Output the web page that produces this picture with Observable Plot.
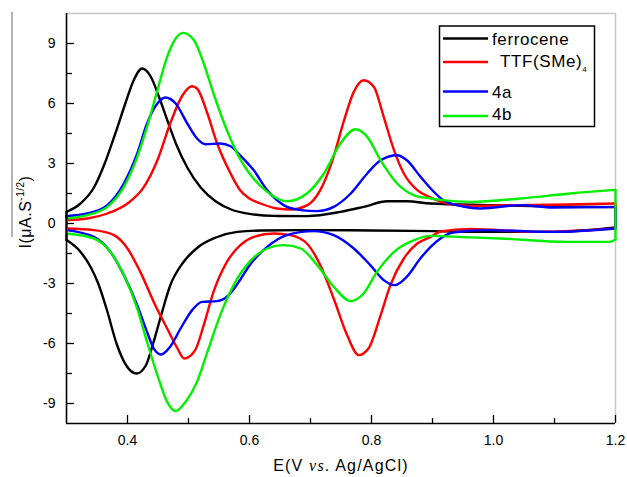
<!DOCTYPE html>
<html><head><meta charset="utf-8">
<script src="https://cdn.jsdelivr.net/npm/d3@7"></script>
<script src="https://cdn.jsdelivr.net/npm/@observablehq/plot@0.6"></script>
<style>
body{margin:0;background:#fff;}
#chart{width:627px;height:477px;position:relative;}
#chart g[aria-label^="x-axis"] text, #chart g[aria-label^="y-axis"] text { font-size: 14px; }
</style>
</head><body><div id="chart"></div>
<script>
const seriesNames = ["ferrocene", "TTF(SMe)4", "4a", "4b"];
const seriesColors = ["#000000", "#ff0000", "#0000ff", "#00f000"];
const xTicksMajor = [0.4, 0.6, 0.8, 1.0, 1.2];
const xTicksMinor = [0.5, 0.7, 0.9, 1.1];
const yTicksMajor = [-9, -6, -3, 0, 3, 6, 9];
const yTicksMinor = [-7.5, -4.5, -1.5, 1.5, 4.5, 7.5];
const xDomain = [0.3, 1.2];
const yDomain = [-10, 10.5];

// ferrocene
const ferroceneOx = [[0.30,0.58],[0.323,1.0],[0.345,1.8],[0.362,2.95],[0.38,4.5],[0.397,6.05],[0.41,7.15],[0.424,7.75],[0.438,7.35],[0.452,6.3],[0.466,5.1],[0.48,3.95],[0.498,2.8],[0.52,1.8],[0.545,1.1],[0.57,0.7],[0.60,0.48],[0.64,0.38],[0.695,0.37],[0.749,0.58],[0.787,0.83],[0.826,1.11],[0.858,1.11],[0.897,1.0],[0.99,0.92],[1.10,0.85],[1.20,0.82]];
const ferroceneRed = [[0.30,-0.83],[0.323,-1.42],[0.34,-2.2],[0.352,-3.0],[0.366,-4.3],[0.382,-6.0],[0.398,-7.1],[0.415,-7.5],[0.43,-7.1],[0.442,-6.0],[0.456,-4.5],[0.47,-3.1],[0.49,-2.0],[0.515,-1.2],[0.545,-0.7],[0.58,-0.42],[0.62,-0.35],[0.70,-0.33],[0.80,-0.35],[0.90,-0.38],[1.00,-0.42],[1.10,-0.42],[1.20,-0.2]];
// TTF(SMe)4
const ttfOx = [[0.30,0.17],[0.334,0.25],[0.367,0.5],[0.40,1.0],[0.427,1.83],[0.449,3.16],[0.47,5.0],[0.49,6.4],[0.506,6.86],[0.514,6.75],[0.531,5.5],[0.547,4.0],[0.569,2.5],[0.585,1.65],[0.60,1.25],[0.618,1.0],[0.645,0.75],[0.667,0.7],[0.695,0.92],[0.716,1.67],[0.736,3.16],[0.755,5.16],[0.771,6.58],[0.787,7.16],[0.804,6.83],[0.82,5.33],[0.837,3.66],[0.853,2.5],[0.875,1.67],[0.897,1.3],[0.913,1.1],[0.962,0.88],[1.044,0.92],[1.12,0.95],[1.20,1.0]];
const ttfRed = [[0.30,-0.25],[0.345,-0.33],[0.378,-0.58],[0.40,-1.25],[0.421,-2.42],[0.443,-3.92],[0.465,-5.25],[0.482,-6.25],[0.493,-6.75],[0.511,-6.33],[0.525,-5.08],[0.541,-3.42],[0.563,-1.92],[0.585,-1.08],[0.607,-0.67],[0.64,-0.5],[0.667,-0.58],[0.694,-1.0],[0.716,-2.08],[0.738,-3.75],[0.760,-5.58],[0.779,-6.58],[0.795,-6.25],[0.815,-4.58],[0.831,-3.08],[0.853,-1.75],[0.875,-1.0],[0.897,-0.67],[0.913,-0.4],[0.962,-0.27],[1.071,-0.42],[1.20,-0.25]];
// 4a
const a4Ox = [[0.30,0.37],[0.334,0.5],[0.367,0.92],[0.394,2.0],[0.416,3.5],[0.432,5.0],[0.449,6.0],[0.462,6.3],[0.479,6.0],[0.498,5.0],[0.514,4.25],[0.528,3.96],[0.552,4.0],[0.569,3.86],[0.585,3.4],[0.607,2.66],[0.629,1.67],[0.656,0.92],[0.684,0.67],[0.711,0.62],[0.738,0.83],[0.766,1.5],[0.793,2.5],[0.815,3.16],[0.842,3.41],[0.858,3.16],[0.880,2.35],[0.897,1.75],[0.918,1.16],[0.95,0.85],[0.979,0.75],[1.044,0.92],[1.098,0.8],[1.20,0.83]];
const a4Red = [[0.30,-0.33],[0.345,-0.67],[0.372,-1.42],[0.394,-2.58],[0.416,-4.08],[0.432,-5.42],[0.443,-6.25],[0.455,-6.55],[0.47,-6.16],[0.487,-5.25],[0.506,-4.33],[0.522,-3.92],[0.547,-3.88],[0.566,-3.58],[0.585,-2.8],[0.60,-2.1],[0.629,-1.17],[0.661,-0.58],[0.705,-0.38],[0.738,-0.58],[0.771,-1.25],[0.798,-2.08],[0.82,-2.83],[0.838,-3.08],[0.858,-2.66],[0.880,-1.75],[0.897,-1.17],[0.913,-0.75],[0.934,-0.45],[0.99,-0.33],[1.098,-0.42],[1.20,-0.25]];
// 4b
const b4Ox = [[0.30,0.25],[0.334,0.42],[0.367,0.83],[0.394,1.83],[0.416,3.33],[0.432,4.83],[0.449,6.66],[0.465,8.33],[0.479,9.25],[0.491,9.53],[0.509,9.16],[0.525,8.0],[0.541,6.5],[0.563,4.66],[0.585,3.2],[0.60,2.5],[0.629,1.58],[0.661,1.11],[0.694,1.5],[0.722,2.5],[0.749,4.0],[0.774,4.71],[0.793,4.33],[0.815,3.16],[0.842,2.0],[0.870,1.41],[0.897,1.25],[0.913,1.18],[0.962,1.08],[1.044,1.25],[1.126,1.5],[1.20,1.68]];
const b4Red = [[0.30,-0.5],[0.345,-0.75],[0.372,-1.42],[0.394,-2.58],[0.416,-4.25],[0.432,-5.92],[0.449,-7.58],[0.465,-8.92],[0.479,-9.38],[0.495,-8.92],[0.514,-7.92],[0.531,-6.42],[0.552,-4.58],[0.574,-3.08],[0.60,-1.92],[0.629,-1.25],[0.656,-1.08],[0.684,-1.25],[0.711,-2.08],[0.738,-3.16],[0.766,-3.88],[0.787,-3.5],[0.809,-2.42],[0.837,-1.42],[0.870,-0.83],[0.897,-0.62],[0.95,-0.68],[1.011,-0.75],[1.121,-0.92],[1.19,-0.92],[1.20,-0.8]];

const branches = [
  [ferroceneOx, ferroceneRed],
  [ttfOx, ttfRed],
  [a4Ox, a4Red],
  [b4Ox, b4Red]
];

const rows = [];
const links = [];
branches.forEach(([ox, red], i) => {
  const s = seriesNames[i];
  ox.forEach(([x, y]) => rows.push({series: s, branch: "ox", x, y}));
  red.forEach(([x, y]) => rows.push({series: s, branch: "red", x, y}));
  links.push({series: s, x1: ox[0][0], y1: ox[0][1], x2: red[0][0], y2: red[0][1]});
  links.push({series: s, x1: ox[ox.length-1][0], y1: ox[ox.length-1][1], x2: red[red.length-1][0], y2: red[red.length-1][1]});
});

const W = 627, H = 477, mL = 66, mR = 12, mT = 13, mB = 54;
const plotW = W - mL - mR, plotH = H - mT - mB;

const svg = Plot.plot({
  width: W, height: H,
  marginLeft: mL, marginRight: mR, marginTop: mT, marginBottom: mB,
  style: {fontFamily: "'Liberation Sans', Arial, sans-serif", fontSize: "14px", background: "#fff", color: "#000"},
  x: {domain: xDomain, ticks: xTicksMajor, tickSize: 0, tickPadding: 12, tickFormat: d => d.toFixed(1), label: null},
  y: {domain: yDomain, ticks: yTicksMajor, tickSize: 0, tickPadding: 11, tickFormat: d => String(d), label: null},
  color: {domain: seriesNames, range: seriesColors},
  marks: [
    Plot.ruleY([yDomain[1]], {stroke: "#c8c8c8", strokeWidth: 1.5}),
    Plot.ruleX([xDomain[1]], {stroke: "#c8c8c8", strokeWidth: 1.5}),
    Plot.line(rows, {x: "x", y: "y", z: d => d.series + d.branch, stroke: "series", strokeWidth: 2.4, curve: "monotone-x"}),
    Plot.link(links, {x1: "x1", y1: "y1", x2: "x2", y2: "y2", stroke: "series", strokeWidth: 2.4}),
    Plot.tickX(xTicksMajor, {x: d => d, insetTop: plotH - 8, stroke: "#000", strokeWidth: 1.3}),
    Plot.tickX(xTicksMinor, {x: d => d, insetTop: plotH - 5, stroke: "#000", strokeWidth: 1.3}),
    Plot.tickY(yTicksMajor, {y: d => d, insetRight: plotW - 8, stroke: "#000", strokeWidth: 1.3}),
    Plot.tickY(yTicksMinor, {y: d => d, insetRight: plotW - 6, stroke: "#000", strokeWidth: 1.3}),
    Plot.ruleX([xDomain[0]], {stroke: "#000", strokeWidth: 1.6}),
    Plot.ruleY([yDomain[0]], {stroke: "#000", strokeWidth: 1.6})
  ]
});

const root = d3.select(svg);
const font = "'Liberation Sans', Arial, sans-serif";

// stray vertical line left of the y label (present in the reference)
root.append("line").attr("x1", 12).attr("x2", 12).attr("y1", 12).attr("y2", 237)
  .attr("stroke", "#666").attr("stroke-width", 1);

// y label
const yl = root.append("text")
  .attr("transform", "translate(31,212) rotate(-90)")
  .attr("text-anchor", "middle").attr("font-family", font).attr("font-size", 16)
  .attr("letter-spacing", 0.5).attr("fill", "#000");
yl.append("tspan").text("I(\u03bcA.S");
yl.append("tspan").attr("dy", -7).attr("font-size", 10).text("-1/2");
yl.append("tspan").attr("dy", 7).text(")");

// x label
const xl = root.append("text").attr("x", 341).attr("y", 471)
  .attr("text-anchor", "middle").attr("font-family", font).attr("font-size", 16)
  .attr("letter-spacing", 1.2).attr("fill", "#000");
xl.append("tspan").text("E(V ");
xl.append("tspan").attr("font-family", "'Liberation Serif', 'Times New Roman', serif").attr("font-style", "italic").text("vs");
xl.append("tspan").text(". Ag/AgCl)");

// legend
const lg = root.append("g");
lg.append("rect").attr("x", 439.5).attr("y", 26).attr("width", 155).attr("height", 100.5)
  .attr("fill", "#fff").attr("stroke", "#000").attr("stroke-width", 1.5);
const rowY = [38.5, 62, 91.5, 116];
const textY = [44.5, 67, 98, 120];
seriesNames.forEach((name, i) => {
  lg.append("line").attr("x1", 443).attr("x2", 488).attr("y1", rowY[i]).attr("y2", rowY[i])
    .attr("stroke", seriesColors[i]).attr("stroke-width", 2.5);
  const t = lg.append("text").attr("x", i === 1 ? 500 : 492).attr("y", textY[i])
    .attr("text-anchor", "start")
    .attr("font-family", font).attr("font-size", 17).attr("letter-spacing", 0.6).attr("fill", "#000");
  if (name.endsWith("4") && name.startsWith("TTF")) {
    t.append("tspan").text(name.slice(0, -1));
    t.append("tspan").attr("dy", 5).attr("font-size", 8).text("4");
  } else {
    t.text(name);
  }
});

document.getElementById("chart").appendChild(svg);
</script>
</body></html>
